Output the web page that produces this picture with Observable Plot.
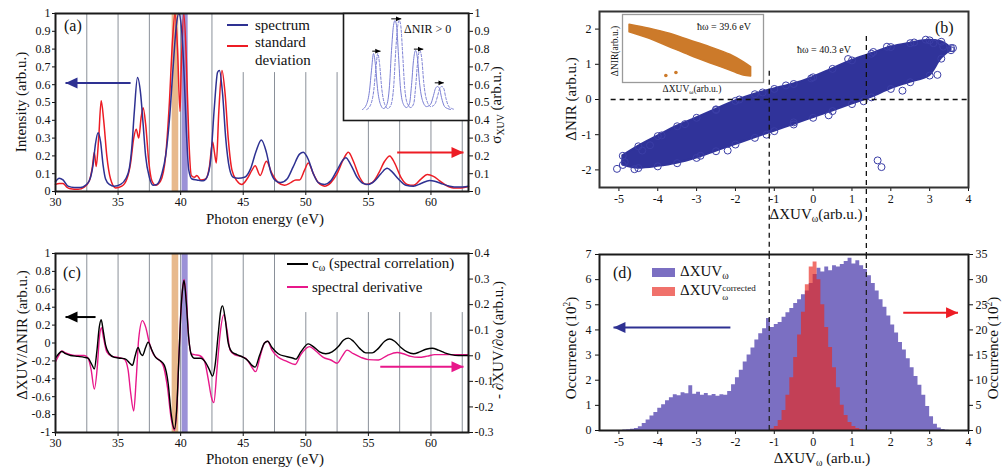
<!DOCTYPE html>
<html><head><meta charset="utf-8">
<script src="https://cdn.jsdelivr.net/npm/d3@7"></script>
<script src="https://cdn.jsdelivr.net/npm/@observablehq/plot@0.6"></script>
<style>
body{margin:0;background:#fff;}
#fig{position:relative;width:1002px;height:470px;overflow:hidden;font-family:"Liberation Serif","Tinos","DejaVu Serif","Noto Serif",serif;color:#111;background:#fff;}
#fig svg text{font-family:"Liberation Serif","Tinos","DejaVu Serif","Noto Serif",serif;}
.pane{position:absolute;}
.t{position:absolute;white-space:nowrap;line-height:1;}
.sub{font-size:0.66em;vertical-align:-0.3em;}
.sup{font-size:0.62em;vertical-align:0.55em;}
.ss{display:inline-flex;flex-direction:column;font-size:0.6em;line-height:0.95;vertical-align:0.45em;}
.sw{position:absolute;}
</style></head><body><div id="fig"></div>
<script>
// ---------------- DATA ----------------
const energyTicks = [30, 35, 40, 45, 50, 55, 60];
const intensityTicks = [0, 0.1, 0.2, 0.3, 0.4, 0.5, 0.6, 0.7, 0.8, 0.9, 1];
const corrTicks = [-1, -0.8, -0.6, -0.4, -0.2, 0, 0.2, 0.4, 0.6, 0.8, 1];
const derivTicks = [-0.3, -0.2, -0.1, 0, 0.1, 0.2, 0.3, 0.4];
const xuvTicks = [-5, -4, -3, -2, -1, 0, 1, 2, 3, 4];
const nirTicks = [-2, -1, 0, 1, 2];
const occTicks = [0, 1, 2, 3, 4, 5, 6, 7];

const gridFullA = [32.5, 35, 37.5, 40, 42.5];
const gridLegendA = [45, 47.5, 50, 52.5];
const gridInsetA = [55, 57.5, 60, 62.5];
const gridFullC = [32.5, 35, 37.5, 40, 42.5, 45, 47.5];
const gridLegendC = [50, 52.5, 55, 57.5, 60, 62.5];
const bandOrange = [39.32, 39.85];   // hbar omega = 39.6 eV
const bandPurple = [40.12, 40.6];    // hbar omega = 40.3 eV

// (a) spectrum (left axis) and standard deviation (right axis), [eV, value]
const spectrum = [[30.0,0.055],[30.3,0.075],[30.6,0.065],[31.0,0.03],[31.5,0.022],[32.0,0.022],[32.4,0.035],[32.7,0.06],[33.0,0.15],[33.2,0.27],[33.4,0.33],[33.6,0.28],[33.8,0.15],[34.0,0.07],[34.3,0.04],[34.7,0.03],[35.2,0.04],[35.6,0.07],[35.9,0.13],[36.1,0.25],[36.3,0.45],[36.55,0.64],[36.8,0.55],[37.0,0.38],[37.2,0.2],[37.5,0.08],[37.8,0.035],[38.1,0.04],[38.5,0.1],[38.8,0.2],[39.1,0.4],[39.4,0.7],[39.65,0.93],[39.85,1.0],[40.05,0.93],[40.25,0.7],[40.45,0.35],[40.65,0.12],[40.9,0.07],[41.3,0.065],[41.8,0.06],[42.1,0.08],[42.4,0.18],[42.7,0.48],[42.95,0.67],[43.1,0.68],[43.35,0.55],[43.6,0.3],[43.9,0.13],[44.2,0.08],[44.6,0.075],[45.1,0.08],[45.6,0.13],[46.0,0.22],[46.45,0.29],[46.85,0.22],[47.2,0.11],[47.6,0.06],[48.0,0.05],[48.5,0.07],[49.0,0.14],[49.5,0.21],[49.8,0.22],[50.2,0.18],[50.6,0.1],[51.0,0.05],[51.5,0.04],[52.0,0.06],[52.5,0.12],[53.0,0.18],[53.2,0.19],[53.6,0.15],[54.1,0.08],[54.6,0.045],[55.0,0.04],[55.5,0.06],[56.0,0.1],[56.5,0.13],[56.9,0.11],[57.4,0.07],[58.0,0.035],[58.6,0.03],[59.2,0.045],[59.9,0.062],[60.3,0.058],[60.8,0.045],[61.5,0.03],[62.2,0.025],[63.0,0.03]];
const stdDev = [[30.0,0.04],[30.3,0.045],[30.6,0.045],[30.9,0.025],[31.2,0.015],[31.8,0.012],[32.3,0.025],[32.7,0.06],[32.95,0.14],[33.1,0.22],[33.25,0.14],[33.45,0.3],[33.65,0.51],[33.85,0.4],[34.1,0.2],[34.4,0.07],[34.8,0.02],[35.3,0.03],[35.7,0.07],[36.0,0.16],[36.25,0.3],[36.45,0.35],[36.65,0.3],[36.85,0.42],[37.0,0.47],[37.2,0.38],[37.45,0.17],[37.7,0.06],[38.0,0.035],[38.4,0.06],[38.8,0.2],[39.1,0.5],[39.35,0.85],[39.55,1.0],[39.75,0.8],[39.95,0.45],[40.05,0.7],[40.25,1.0],[40.45,0.75],[40.65,0.3],[40.85,0.09],[41.1,0.08],[41.3,0.09],[41.6,0.065],[42.0,0.07],[42.3,0.14],[42.55,0.28],[42.7,0.22],[42.85,0.16],[43.05,0.45],[43.3,0.68],[43.55,0.55],[43.8,0.3],[44.1,0.12],[44.5,0.06],[44.9,0.04],[45.3,0.07],[45.7,0.12],[45.95,0.145],[46.35,0.09],[46.85,0.17],[47.3,0.1],[47.8,0.05],[48.3,0.035],[48.8,0.05],[49.2,0.065],[49.5,0.065],[49.9,0.12],[50.2,0.16],[50.6,0.1],[51.0,0.05],[51.5,0.03],[52.0,0.05],[52.5,0.1],[53.0,0.18],[53.4,0.22],[53.8,0.17],[54.3,0.08],[54.8,0.04],[55.3,0.05],[55.8,0.1],[56.3,0.17],[56.7,0.2],[57.1,0.16],[57.6,0.08],[58.1,0.04],[58.6,0.035],[59.2,0.07],[59.7,0.095],[60.2,0.085],[60.7,0.06],[61.2,0.035],[61.8,0.02],[62.4,0.02],[63.0,0.028]];

// (a) inset: schematic harmonic peaks (arbitrary units) and their shift for dNIR > 0
const insetPeaks = [[1.52,0.103],[1.84,0.15],[2.08,0.28],[2.24,0.47],[2.4,0.626],[2.56,0.514],[2.72,0.30],[2.96,0.15],[3.2,0.112],[3.44,0.14],[3.68,0.327],[3.84,0.654],[4.0,0.888],[4.12,0.935],[4.24,0.888],[4.4,0.607],[4.56,0.30],[4.8,0.15],[5.04,0.121],[5.28,0.159],[5.44,0.327],[5.6,0.56],[5.76,0.654],[5.92,0.58],[6.08,0.355],[6.32,0.187],[6.64,0.13],[6.96,0.15],[7.2,0.234],[7.36,0.30],[7.52,0.318],[7.68,0.30],[7.84,0.215],[8.08,0.131],[8.32,0.112],[8.56,0.103]];
const insetShift = 0.34;
const insetArrows = [{x1:2.3,x2:2.96,y:0.648},{x1:3.82,x2:4.62,y:0.95},{x1:5.63,x2:6.38,y:0.667},{x1:7.3,x2:8.02,y:0.352}];

// (c) spectral correlation (left axis) and spectral derivative (right axis), [eV, value]
const correlation = [[30.0,-0.17],[30.25,-0.12],[30.5,-0.095],[30.8,-0.12],[31.2,-0.14],[31.8,-0.15],[32.3,-0.16],[32.6,-0.17],[32.9,-0.24],[33.1,-0.29],[33.3,-0.1],[33.5,0.18],[33.65,0.26],[33.8,0.15],[34.0,-0.02],[34.3,-0.12],[34.7,-0.16],[35.2,-0.17],[35.6,-0.18],[35.9,-0.22],[36.15,-0.25],[36.35,-0.15],[36.6,-0.05],[36.8,-0.12],[36.95,-0.14],[37.2,-0.05],[37.4,0.01],[37.7,-0.08],[38.0,-0.16],[38.4,-0.2],[38.7,-0.25],[39.0,-0.45],[39.25,-0.8],[39.5,-0.96],[39.7,-0.7],[39.85,-0.2],[40.0,0.3],[40.15,0.6],[40.27,0.7],[40.45,0.45],[40.65,0.05],[40.85,-0.13],[41.1,-0.17],[41.6,-0.17],[42.0,-0.22],[42.3,-0.3],[42.55,-0.37],[42.75,-0.25],[43.0,0.1],[43.2,0.36],[43.35,0.415],[43.55,0.28],[43.8,0.0],[44.1,-0.1],[44.5,-0.13],[45.0,-0.16],[45.4,-0.2],[45.7,-0.25],[45.95,-0.27],[46.3,-0.14],[46.7,0.0],[46.95,0.02],[47.3,-0.05],[47.8,-0.12],[48.4,-0.15],[49.0,-0.17],[49.2,-0.18],[49.6,-0.1],[50.2,-0.01],[50.6,-0.04],[51.1,-0.1],[51.6,-0.12],[52.1,-0.1],[52.6,-0.04],[53.0,0.03],[53.4,0.055],[53.8,0.02],[54.3,-0.06],[54.8,-0.11],[55.3,-0.11],[55.8,-0.06],[56.3,0.02],[56.7,0.045],[57.1,0.02],[57.6,-0.05],[58.1,-0.1],[58.6,-0.12],[59.1,-0.1],[59.6,-0.07],[60.1,-0.058],[60.6,-0.08],[61.1,-0.11],[61.6,-0.13],[62.2,-0.14],[63.0,-0.14]];
const derivative = [[30.0,-0.0235],[30.25,0.001],[30.5,0.0185],[30.8,0.0115],[31.2,0.0045],[31.8,0.001],[32.3,0.001],[32.6,-0.0095],[32.85,-0.055],[33.1,-0.130],[33.35,-0.0375],[33.5,0.0675],[33.67,0.1095],[33.85,0.0675],[34.1,0.015],[34.5,-0.0025],[35.0,-0.006],[35.5,-0.013],[35.8,-0.055],[36.0,-0.1425],[36.25,-0.216],[36.45,-0.09],[36.65,0.0675],[36.95,0.1375],[37.2,0.113],[37.5,0.05],[37.8,0.008],[38.2,-0.013],[38.6,-0.0375],[38.95,-0.125],[39.25,-0.2475],[39.5,-0.291],[39.7,-0.202],[39.85,-0.02],[40.0,0.155],[40.15,0.26],[40.27,0.2985],[40.45,0.225],[40.65,0.0675],[40.85,0.008],[41.1,0.0045],[41.5,0.001],[41.9,-0.02],[42.2,-0.09],[42.45,-0.16],[42.65,-0.183],[42.9,-0.055],[43.15,0.085],[43.45,0.16],[43.7,0.1025],[43.95,0.022],[44.3,0.0045],[44.8,-0.0025],[45.2,-0.0095],[45.6,-0.0375],[46.0,-0.062],[46.35,-0.0025],[46.7,0.05],[46.95,0.057],[47.3,0.022],[47.8,-0.006],[48.4,-0.02],[49.15,-0.034],[49.6,0.0045],[50.3,0.036],[50.8,0.0185],[51.4,-0.006],[52.0,-0.0165],[52.5,-0.029],[52.9,-0.0025],[53.3,0.022],[53.8,0.008],[54.4,-0.006],[55.0,-0.015],[55.8,-0.0165],[56.5,0.001],[57.3,0.013],[57.8,0.008],[58.4,-0.0025],[59.0,-0.006],[59.7,-0.0015],[60.3,0.0045],[61.0,0.0045],[62.0,0.0045],[63.0,0.0045]];

// (b) scatter cloud at 40.3 eV: band edges, plus stray points
const cloudX     = [-4.9,-4.5,-4.0,-3.5,-3.0,-2.5,-2.0,-1.5,-1.0,-0.5, 0.0, 0.5, 1.0, 1.5, 2.0, 2.5, 3.0, 3.3, 3.55];
const cloudUpper = [-1.6,-1.33,-1.04,-0.76,-0.52,-0.28,-0.04,0.15,0.30,0.44,0.63,0.87,1.11,1.30,1.49,1.60,1.68,1.64,1.46];
const cloudLower = [-1.86,-1.95,-1.90,-1.81,-1.66,-1.47,-1.28,-1.09,-0.90,-0.71,-0.52,-0.33,-0.13,0.06,0.30,0.49,0.68,1.16,1.40];
const cloudStray = [[-5.05,-1.97],[-4.85,-1.78],[-4.6,-1.98],[-4.4,-1.45],[-4.2,-1.3],[-3.9,-1.02],[-3.3,-0.7],[-2.9,-1.6],[-2.5,-0.3],[-2.2,-1.45],[-1.9,0.0],[-1.3,0.2],[-1.2,-1.0],[-0.7,0.4],[-0.5,-0.65],[-0.05,0.6],[0.4,-0.45],[0.9,1.15],[1.3,-0.05],[1.55,1.35],[1.9,1.5],[2.3,0.25],[2.6,1.62],[2.9,1.7],[3.1,1.6],[3.2,0.7],[3.35,1.5],[3.6,1.46],[1.66,-1.73],[1.76,-1.92]];
const cutX = [-1.13, 1.37];
const cutTop = [0.80, 1.79];

// (b) inset scatter at 39.6 eV (arbitrary units)
const insetCloudX     = [-5.025,-3.668,-2.31,-0.953,0.404,1.761,2.664,3.166];
const insetCloudUpper = [1.743,1.449,1.081,0.588,0.096,-0.463,-1.007,-1.375];
const insetCloudLower = [1.198,0.713,0.096,-0.515,-1.081,-1.618,-1.985,-2.059];
const insetStray = [[-2.58,-1.985],[-1.90,-1.765]];

// (d) histograms: bins of width 0.1
const binWidth = 0.1;
const rawStart = -5.0;   // occurrences (10^2), left axis
const rawCounts = [0.00,0.02,0.03,0.05,0.08,0.15,0.28,0.42,0.58,0.72,0.88,1.02,1.18,1.3,1.42,1.38,1.5,1.46,1.78,1.44,1.52,1.4,1.47,1.38,1.43,1.36,1.42,1.4,1.55,1.82,2.1,2.4,2.72,3.0,3.28,3.6,3.85,4.05,4.45,4.1,4.22,4.3,4.5,4.68,4.85,5.05,5.2,5.4,5.55,5.85,6.2,6.45,6.3,6.5,6.35,6.55,6.5,6.6,6.72,6.85,6.62,6.75,6.55,6.4,6.15,5.85,5.55,5.2,4.9,4.55,4.2,3.88,3.5,3.2,2.85,2.5,2.15,1.8,1.4,0.95,0.55,0.25,0.1,0.04,0.01];
const corrStart = -1.1;  // occurrences (10^2), right axis
const corrCounts = [0.3,0.8,2.0,4.0,7.0,10.5,14.5,19.0,23.5,29.0,32.5,33.5,30.0,25.0,20.5,16.5,12.5,8.5,5.0,3.0,1.6,0.8,0.4,0.2,0.1];
const occRightTicks = [0, 5, 10, 15, 20, 25, 30, 35];

// annotation arrows (data units of each panel)
const arrowsA = {spectrum: {x1: 36.0, x2: 30.8, y: 0.61}, std: {x1: 57.3, x2: 62.6, y: 0.219}};
const arrowsC = {corr: {x1: 33.2, x2: 30.8, y: 0.29}, deriv: {x1: 55.95, x2: 62.6, y: -0.266}};
const arrowsD = {raw: {x1: -2.13, x2: -5.14, y: 4.1}, corr: {x1: 2.32, x2: 3.73, y: 23.4}};

// ---------------- STYLE ----------------
const C = {blue: "#2e3192", red: "#ed1c24", black: "#000", pink: "#e8178a", grid: "#8a9099",
  orange: "#e8b98c", lilac: "#9b91d7", cloud: "#30339a", cloudEdge: "#3b3ea6", ochre: "#cc7a2a",
  hist: "#7b6fc2", histRed: "#e8281e", frame: "#1a1a1a"};
const fontFam = '"Liberation Serif", "Tinos", "DejaVu Serif", "Noto Serif", serif';
const baseStyle = {background: "transparent", overflow: "visible", fontFamily: fontFam, fontSize: "12px", color: "#111"};
const fmt = d => String(d);
const headRight = {draw(ctx, size) { const s = Math.sqrt(size); ctx.moveTo(0.8*s, 0); ctx.lineTo(-0.55*s, -0.62*s); ctx.lineTo(-0.55*s, 0.62*s); ctx.closePath(); }};
const headLeft = {draw(ctx, size) { const s = Math.sqrt(size); ctx.moveTo(-0.8*s, 0); ctx.lineTo(0.55*s, -0.62*s); ctx.lineTo(0.55*s, 0.62*s); ctx.closePath(); }};
function arrow(a, color, sw = 2, r = 5, ymap = d => d) {
  const dir = Math.sign(a.x2 - a.x1);
  const off = 0.8 * Math.sqrt(Math.PI) * r;
  const d = [{x1: a.x1, x2: a.x2, y: ymap(a.y)}];
  return [
    Plot.link(d, {x1: "x1", x2: "x2", y1: "y", y2: "y", stroke: color, strokeWidth: sw}),
    Plot.dot(d, {x: "x2", y: "y", r, symbol: dir > 0 ? headRight : headLeft, fill: color, stroke: "none", dx: -dir * off})
  ];
}
function steps(start, w, counts, scale = 1) {
  const s = counts.map((c, i) => ({x: start + i * w, y: c / scale}));
  s.push({x: start + counts.length * w, y: counts[counts.length - 1] / scale});
  return s;
}
const px = d => d[0], py = d => d[1];
const derivToLeft = r => (20 * r - 1) / 7;   // right axis [-0.3,0.4] -> left axis [-1,1]
const leftToDeriv = l => Math.round((7 * l + 1) / 20 * 10) / 10;

// ---------------- LAYOUT ----------------
const fig = document.getElementById("fig");
function pane(svg, left, top) { const d = document.createElement("div"); d.className = "pane"; d.style.left = left + "px"; d.style.top = top + "px"; d.appendChild(svg); fig.appendChild(d); }
function txt(html, x, y, o = {}) {
  const d = document.createElement("div"); d.className = "t"; d.innerHTML = html;
  d.style.left = x + "px"; d.style.top = y + "px"; d.style.fontSize = (o.size || 15) + "px";
  if (o.color) d.style.color = o.color;
  const tx = o.anchor === "start" ? "0" : "-50%";
  d.style.transform = `translate(${tx},-50%)` + (o.rot ? ` rotate(${o.rot}deg)` : "");
  fig.appendChild(d);
}
function swatch(x, y, w, h, color) { const d = document.createElement("div"); d.className = "sw"; Object.assign(d.style, {left: x + "px", top: y + "px", width: w + "px", height: h + "px", background: color}); fig.appendChild(d); }

// (a)
pane(Plot.plot({
  width: 505, height: 230, marginLeft: 55, marginRight: 37, marginTop: 13, marginBottom: 39,
  x: {domain: [30, 63]}, y: {domain: [0, 1]}, style: baseStyle,
  marks: [
    Plot.rect([bandOrange], {x1: px, x2: py, fill: C.orange}),
    Plot.rect([bandPurple], {x1: px, x2: py, fill: C.lilac}),
    Plot.ruleX(gridFullA, {stroke: C.grid, strokeWidth: 1}),
    Plot.ruleX(gridLegendA, {y1: 0, y2: 0.668, stroke: C.grid, strokeWidth: 1}),
    Plot.ruleX(gridInsetA, {y1: 0, y2: 0.397, stroke: C.grid, strokeWidth: 1}),
    Plot.line(stdDev, {x: px, y: py, stroke: C.red, strokeWidth: 1.5, curve: "monotone-x"}),
    Plot.line(spectrum, {x: px, y: py, stroke: C.blue, strokeWidth: 1.5, curve: "monotone-x"}),
    ...arrow(arrowsA.spectrum, C.blue),
    ...arrow(arrowsA.std, C.red),
    Plot.axisX({ticks: energyTicks, tickSize: 4, tickPadding: 2, tickFormat: fmt, label: null}),
    Plot.axisY({ticks: intensityTicks, tickSize: 3, tickPadding: 2, tickFormat: fmt, label: null}),
    Plot.axisY({anchor: "right", ticks: intensityTicks, tickSize: 4, tickPadding: 2, tickFormat: fmt, label: null}),
    Plot.frame({stroke: C.frame, strokeWidth: 2})
  ]
}), 0, 0);

// (a) inset
pane(Plot.plot({
  width: 125, height: 107, margin: 0,
  x: {domain: [0, 10], axis: null}, y: {domain: [0, 1], axis: null},
  style: {...baseStyle, background: "#fff"},
  marks: [
    Plot.line(insetPeaks, {x: px, y: py, stroke: "#7b7fd4", strokeWidth: 1, curve: "monotone-x"}),
    Plot.line(insetPeaks, {x: d => d[0] + insetShift, y: py, stroke: "#7b7fd4", strokeWidth: 1, strokeDasharray: "2.5,1.8", curve: "monotone-x"}),
    ...insetArrows.flatMap(a => arrow(a, "#000", 1, 2.2)),
    Plot.frame({stroke: C.frame, strokeWidth: 1.6})
  ]
}), 343, 13);

// (c)
pane(Plot.plot({
  width: 505, height: 240, marginLeft: 55, marginRight: 37, marginTop: 23, marginBottom: 38,
  x: {domain: [30, 63]}, y: {domain: [-1, 1]}, style: baseStyle,
  marks: [
    Plot.rect([bandOrange], {x1: px, x2: py, fill: C.orange}),
    Plot.rect([bandPurple], {x1: px, x2: py, fill: C.lilac}),
    Plot.ruleX(gridFullC, {stroke: C.grid, strokeWidth: 1}),
    Plot.ruleX(gridLegendC, {y1: -1, y2: 0.34, stroke: C.grid, strokeWidth: 1}),
    Plot.line(derivative, {x: px, y: d => derivToLeft(d[1]), stroke: C.pink, strokeWidth: 1.4, curve: "monotone-x"}),
    Plot.line(correlation, {x: px, y: py, stroke: C.black, strokeWidth: 1.4, curve: "monotone-x"}),
    ...arrow(arrowsC.corr, C.black),
    ...arrow(arrowsC.deriv, C.pink),
    Plot.axisX({ticks: energyTicks, tickSize: 4, tickPadding: 2, tickFormat: fmt, label: null}),
    Plot.axisY({ticks: corrTicks, tickSize: 3, tickPadding: 2, tickFormat: fmt, label: null}),
    Plot.axisY({anchor: "right", ticks: derivTicks.map(derivToLeft), tickSize: 4, tickPadding: 2, tickFormat: d => String(leftToDeriv(d)), label: null}),
    Plot.frame({stroke: C.frame, strokeWidth: 2})
  ]
}), 0, 230);

// (b)
const cloud = cloudX.map((x, i) => ({x, lo: cloudLower[i], hi: cloudUpper[i]}));
const cloudEdges = [...cloud.map(d => [d.x, d.hi]), ...cloud.map(d => [d.x, d.lo]), ...cloudStray];
pane(Plot.plot({
  width: 502, height: 254, marginLeft: 99, marginRight: 34, marginTop: 11, marginBottom: 67,
  x: {domain: [-5.5, 4]}, y: {domain: [-2.5, 2.5]}, style: baseStyle,
  marks: [
    Plot.areaY(cloud, {x: "x", y1: "lo", y2: "hi", fill: C.cloud, stroke: C.cloud, strokeWidth: 2, curve: "monotone-x"}),
    Plot.dot(cloudEdges, {x: px, y: py, r: 3.5, stroke: C.cloudEdge, strokeWidth: 1, fill: "none"}),
    Plot.ruleY([0], {x1: -5.2, x2: 4, stroke: "#111", strokeWidth: 1.5, strokeDasharray: "5,4"}),
    Plot.axisX({ticks: xuvTicks, tickSize: 4, tickPadding: 3, tickFormat: fmt, label: null}),
    Plot.axisY({ticks: nirTicks, tickSize: 4, tickPadding: 4, tickFormat: fmt, label: null}),
    Plot.frame({stroke: "#333", strokeWidth: 2}),
    Plot.ruleX(cutX, {y1: (d, i) => cutTop[i], y2: -4.45, stroke: "#111", strokeWidth: 1.3, strokeDasharray: "5,4"})
  ]
}), 500, 0);

// (b) inset
const icloud = insetCloudX.map((x, i) => ({x, lo: insetCloudLower[i], hi: insetCloudUpper[i]}));
pane(Plot.plot({
  width: 141, height: 68, margin: 0,
  x: {domain: [-5.5, 4], axis: null}, y: {domain: [-2.5, 2.5], axis: null},
  style: {...baseStyle, background: "#fff"},
  marks: [
    Plot.areaY(icloud, {x: "x", y1: "lo", y2: "hi", fill: C.ochre, stroke: C.ochre, strokeWidth: 1.5, curve: "monotone-x"}),
    Plot.dot(insetStray, {x: px, y: py, r: 1.8, fill: C.ochre}),
    Plot.frame({stroke: "#9a9a9a", strokeWidth: 1.3})
  ]
}), 622, 14);

// (d)
pane(Plot.plot({
  width: 502, height: 240, marginLeft: 99, marginRight: 34, marginTop: 24, marginBottom: 40,
  x: {domain: [-5.5, 4]}, y: {domain: [0, 7]}, style: baseStyle,
  marks: [
    Plot.areaY(steps(rawStart, binWidth, rawCounts), {x: "x", y: "y", curve: "step-after", fill: C.hist}),
    Plot.areaY(steps(corrStart, binWidth, corrCounts, 5), {x: "x", y: "y", curve: "step-after", fill: C.histRed, fillOpacity: 0.66}),
    Plot.ruleX(cutX, {y1: 0, y2: 7, stroke: "#222", strokeWidth: 1.3, strokeDasharray: "5,4"}),
    ...arrow(arrowsD.raw, C.blue),
    ...arrow(arrowsD.corr, C.red, 2, 5, v => v / 5),
    Plot.axisX({ticks: xuvTicks, tickSize: 4, tickPadding: 3, tickFormat: fmt, label: null}),
    Plot.axisY({ticks: occTicks, tickSize: 4, tickPadding: 4, tickFormat: fmt, label: null}),
    Plot.axisY({anchor: "right", ticks: occRightTicks.map(v => v / 5), tickSize: 4, tickPadding: 3, tickFormat: d => String(Math.round(d * 5)), label: null}),
    Plot.frame({stroke: C.frame, strokeWidth: 2})
  ]
}), 500, 230);

// ---------------- TEXT ----------------
// (a)
txt("(a)", 64, 26, {size: 16, anchor: "start"});
swatch(227, 24, 21, 2, C.blue); txt("spectrum", 255, 25, {anchor: "start"});
swatch(227, 45, 21, 2, C.red); txt("standard", 255, 42, {anchor: "start"}); txt("deviation", 255, 60, {anchor: "start"});
txt("ΔNIR &gt; 0", 404, 29, {size: 12, anchor: "start"});
txt("Intensity (arb.u.)", 21, 102, {rot: -90});
txt("Photon energy (eV)", 265, 219);
txt("σ<span class='sub'>XUV</span> (arb.u.)", 497, 105, {rot: -90});
// (c)
txt("(c)", 63, 273, {size: 16, anchor: "start"});
swatch(287, 263, 21, 2, C.black); txt("c<span class='sub'>ω</span> (spectral correlation)", 312, 264, {anchor: "start"});
swatch(287, 286, 21, 2, C.pink); txt("spectral derivative", 312, 287, {anchor: "start"});
txt("ΔXUV/ΔNIR (arb.u.)", 22, 335, {rot: -90});
txt("Photon energy (eV)", 265, 459);
txt("- ∂XUV/∂ω (arb.u.)", 498, 340, {rot: -90});
// (b)
txt("(b)", 935, 28, {size: 16, anchor: "start"});
txt("ħω = 40.3 eV", 797, 50, {size: 10, anchor: "start"});
txt("ħω = 39.6 eV", 697, 27, {size: 10, anchor: "start"});
txt("ΔNIR(arb.u.)", 616, 51, {size: 9.5, rot: -90});
txt("ΔXUV<span class='sub'>ω</span>(arb.u.)", 692, 90, {size: 9.5});
txt("ΔNIR (arb.u.)", 571, 99, {rot: -90});
txt("ΔXUV<span class='sub'>ω</span>(arb.u.)", 816, 215);
// (d)
txt("(d)", 613, 273, {size: 16, anchor: "start"});
swatch(652, 268, 23, 9, C.hist); txt("ΔXUV<span class='sub'>ω</span>", 680, 272, {anchor: "start"});
swatch(652, 287, 23, 9, "rgba(232,40,30,0.66)"); txt("ΔXUV<span class='ss'><span>corrected</span><span>ω</span></span>", 680, 292, {anchor: "start"});
txt("Occurrence (10<span class='sup'>2</span>)", 571, 348, {rot: -90});
txt("Occurrence (10<span class='sup'>2</span>)", 993, 348, {rot: -90});
txt("ΔXUV<span class='sub'>ω</span> (arb.u.)", 822, 459);
</script></body></html>
